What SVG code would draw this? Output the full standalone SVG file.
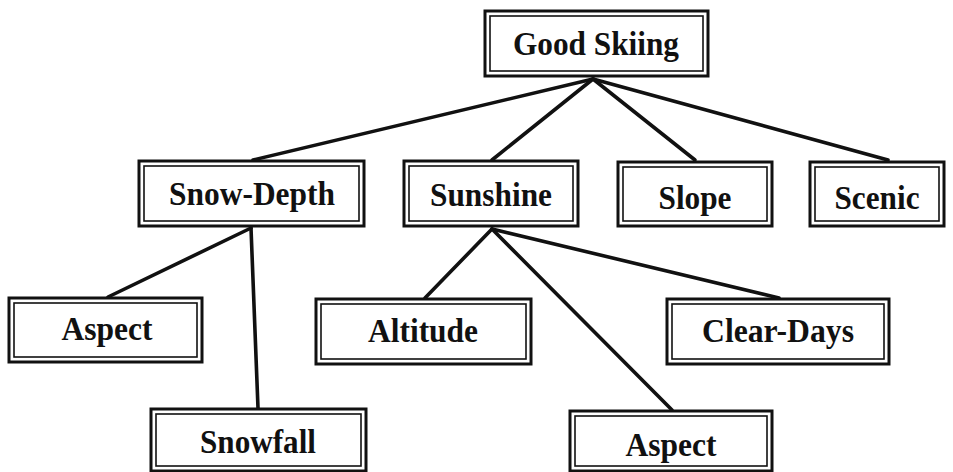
<svg xmlns="http://www.w3.org/2000/svg" width="953" height="472" viewBox="0 0 953 472">
<style>
.o{fill:#fff;stroke:#111;stroke-width:3}
.i{fill:none;stroke:#111;stroke-width:1.6}
.t{font-family:"Liberation Serif","Times New Roman",serif;font-weight:bold;font-size:34px;fill:#111;text-anchor:middle}
.c line{stroke:#111;stroke-width:3.6;stroke-linecap:round}
</style>
<rect width="953" height="472" fill="#fff"/>
<g class="c" id="connectors">
<line x1="593" y1="79" x2="253" y2="160"/>
<line x1="593" y1="79" x2="492" y2="160"/>
<line x1="593" y1="79" x2="695" y2="160"/>
<line x1="593" y1="79" x2="888" y2="160"/>
<line x1="251" y1="228" x2="108" y2="297"/>
<line x1="251" y1="228" x2="258" y2="408"/>
<line x1="492" y1="229" x2="425" y2="298"/>
<line x1="492" y1="229" x2="672" y2="410"/>
<line x1="492" y1="229" x2="779" y2="298"/>
</g>
<g id="good-skiing"><rect class="o" x="485" y="11" width="223" height="65"/><rect class="i" x="490" y="16" width="213" height="55"/><text class="t" x="596" y="55" textLength="166" lengthAdjust="spacingAndGlyphs">Good Skiing</text></g>
<g id="snow-depth"><rect class="o" x="139" y="161" width="225" height="65"/><rect class="i" x="144" y="166" width="215" height="55"/><text class="t" x="252" y="205" textLength="166" lengthAdjust="spacingAndGlyphs">Snow-Depth</text></g>
<g id="sunshine"><rect class="o" x="404" y="161" width="174" height="65"/><rect class="i" x="409" y="166" width="164" height="55"/><text class="t" x="491" y="206" textLength="122" lengthAdjust="spacingAndGlyphs">Sunshine</text></g>
<g id="slope"><rect class="o" x="618" y="162" width="154" height="64"/><rect class="i" x="623" y="167" width="144" height="54"/><text class="t" x="695" y="209" textLength="73" lengthAdjust="spacingAndGlyphs">Slope</text></g>
<g id="scenic"><rect class="o" x="810" y="162" width="134" height="64"/><rect class="i" x="815" y="167" width="124" height="54"/><text class="t" x="877" y="209" textLength="85" lengthAdjust="spacingAndGlyphs">Scenic</text></g>
<g id="aspect-1"><rect class="o" x="9" y="298" width="193" height="64"/><rect class="i" x="14" y="303" width="183" height="54"/><text class="t" x="107" y="340" textLength="91" lengthAdjust="spacingAndGlyphs">Aspect</text></g>
<g id="snowfall"><rect class="o" x="151" y="409" width="215" height="62"/><rect class="i" x="156" y="414" width="205" height="52"/><text class="t" x="258" y="453" textLength="116" lengthAdjust="spacingAndGlyphs">Snowfall</text></g>
<g id="altitude"><rect class="o" x="316" y="299" width="215" height="65"/><rect class="i" x="321" y="304" width="205" height="55"/><text class="t" x="423" y="342" textLength="110" lengthAdjust="spacingAndGlyphs">Altitude</text></g>
<g id="aspect-2"><rect class="o" x="570" y="411" width="202" height="60"/><rect class="i" x="575" y="416" width="192" height="50"/><text class="t" x="671" y="456" textLength="91" lengthAdjust="spacingAndGlyphs">Aspect</text></g>
<g id="clear-days"><rect class="o" x="667" y="299" width="222" height="65"/><rect class="i" x="672" y="304" width="212" height="55"/><text class="t" x="778" y="342" textLength="152" lengthAdjust="spacingAndGlyphs">Clear-Days</text></g>
</svg>
